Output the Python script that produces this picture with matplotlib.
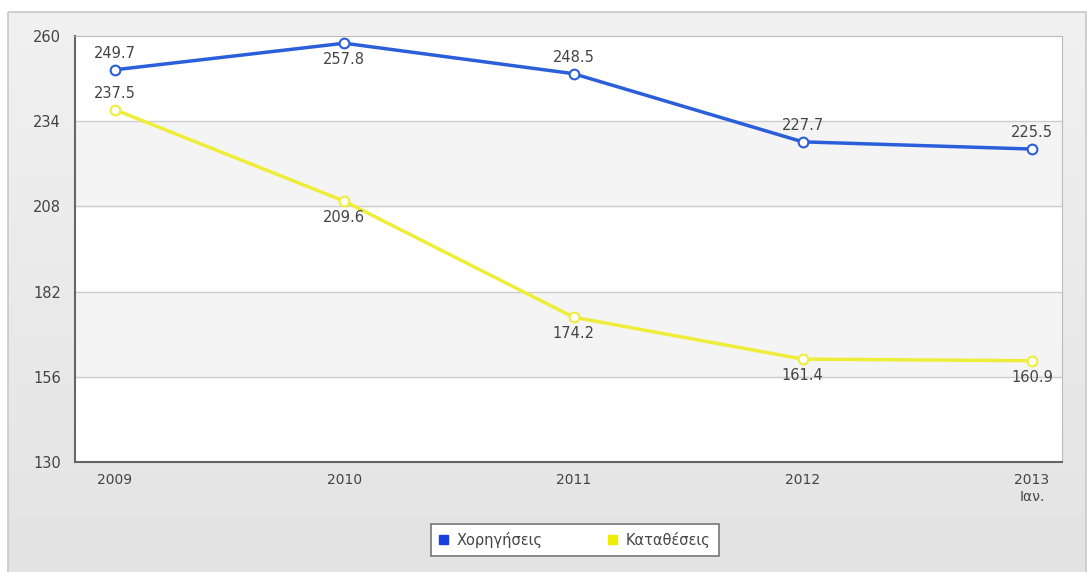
import matplotlib
matplotlib.use('Agg')
import matplotlib.pyplot as plt
from matplotlib.patches import Rectangle

years = ['2009', '2010', '2011', '2012', '2013\nΙαν.']
loans = [249.7, 257.8, 248.5, 227.7, 225.5]
deposits = [237.5, 209.6, 174.2, 161.4, 160.9]
yticks = [130, 156, 182, 208, 234, 260]

# label placement: +1 above point, -1 below
loans_pos = [1, -1, 1, 1, 1]
deposits_pos = [1, -1, -1, -1, -1]

blue = '#2b5fd9'
yellow = '#eeee3a'
txt = '#444444'

fig = plt.figure(figsize=(10.91, 5.72), dpi=100)
fig.patch.set_facecolor('white')

# outer panel with light gray gradient-ish background
bg = fig.add_axes([0, 0, 1, 1], zorder=-10)
bg.set_xlim(0, 1091)
bg.set_ylim(572, 0)
bg.axis('off')
grad = [[0.94 - 0.05 * i / 50] for i in range(51)]
bg.imshow(grad, cmap='gray', vmin=0, vmax=1, extent=[8, 1086, 572, 12], aspect='auto')
bg.add_patch(Rectangle((8, 12), 1078, 565, fill=False, edgecolor='#c8c8c8', lw=1.2))

ax = fig.add_axes([75 / 1091, 1 - 462 / 572, (1062 - 75) / 1091, (462 - 36) / 572])
x = list(range(len(years)))
ax.set_xlim(-40 / 229, 4 + 30 / 229)
ax.set_ylim(130, 260)

# alternating bands
for i in range(len(yticks) - 1):
    col = 'white' if i % 2 == 0 else '#f4f4f4'
    ax.axhspan(yticks[i], yticks[i + 1], color=col, zorder=0)
for v in yticks[1:-1]:
    ax.axhline(v, color='#cccccc', lw=1, zorder=1)

ax.plot(x, loans, color=blue, lw=2.5, marker='o', ms=7, mfc='white', mec=blue, mew=1.5, zorder=3)
ax.plot(x, deposits, color=yellow, lw=2.5, marker='o', ms=7, mfc='white', mec=yellow, mew=1.5, zorder=3)

for xi, v, p in zip(x, loans, loans_pos):
    ax.annotate(f'{v:.1f}', (xi, v), xytext=(0, 12 * p), textcoords='offset points',
                ha='center', va='center', fontsize=10.5, color=txt, zorder=4)
for xi, v, p in zip(x, deposits, deposits_pos):
    ax.annotate(f'{v:.1f}', (xi, v), xytext=(0, 12 * p), textcoords='offset points',
                ha='center', va='center', fontsize=10.5, color=txt, zorder=4)

ax.set_xticks(x)
ax.set_xticklabels(years, fontsize=10, color=txt, linespacing=1.3)
ax.set_yticks(yticks)
ax.set_yticklabels([str(v) for v in yticks], fontsize=10.5, color=txt)
ax.tick_params(axis='both', length=0, pad=8)
ax.tick_params(axis='y', pad=10)
for s in ax.spines.values():
    s.set_color('#bbbbbb')
ax.spines['left'].set_color('#666666')
ax.spines['bottom'].set_color('#666666')
ax.spines['left'].set_linewidth(1.5)
ax.spines['bottom'].set_linewidth(1.5)

h1 = Rectangle((0, 0), 1, 1, color='#1a3fe0')
h2 = Rectangle((0, 0), 1, 1, color='#eeee00')
leg = fig.legend([h1, h2], ['Χορηγήσεις', 'Καταθέσεις'], loc='center',
                 bbox_to_anchor=(575 / 1091, 1 - 540 / 572), ncol=2, fontsize=10.5,
                 frameon=True, fancybox=False, handlelength=0.6, handleheight=0.6,
                 columnspacing=4.5, handletextpad=0.6, borderpad=0.55)
leg.get_frame().set_edgecolor('#777777')
leg.get_frame().set_facecolor('white')
leg.get_frame().set_alpha(1)
leg.get_frame().set_linewidth(1.2)
for t in leg.get_texts():
    t.set_color(txt)

fig.savefig('out.png', dpi=100, facecolor=fig.get_facecolor())
